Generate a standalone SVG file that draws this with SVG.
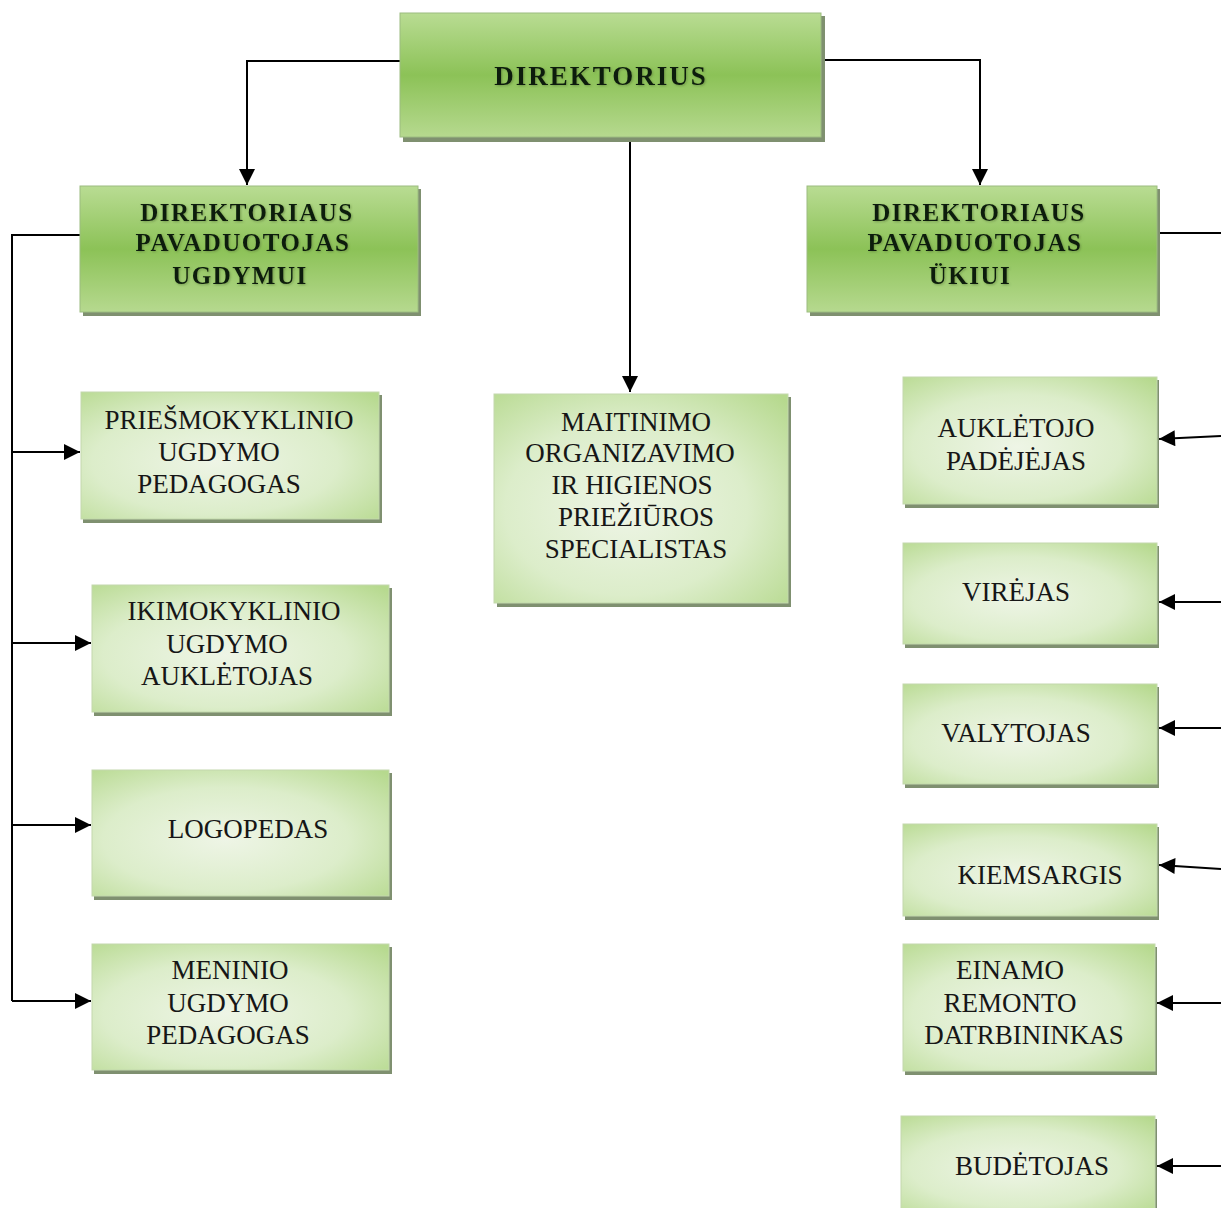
<svg xmlns="http://www.w3.org/2000/svg" width="1221" height="1208" viewBox="0 0 1221 1208">
<defs>
<linearGradient id="gDark" x1="0" y1="0" x2="0" y2="1">
<stop offset="0" stop-color="#b9dc93"/>
<stop offset="0.5" stop-color="#8cc257"/>
<stop offset="1" stop-color="#b6d98f"/>
</linearGradient>
<radialGradient id="gLight" cx="0.45" cy="0.55" r="0.75">
<stop offset="0" stop-color="#eef5e6"/>
<stop offset="0.55" stop-color="#dcedca"/>
<stop offset="1" stop-color="#b6d98e"/>
</radialGradient>
<marker id="arr" viewBox="0 0 10 10" refX="10" refY="5" markerWidth="20" markerHeight="16" markerUnits="userSpaceOnUse" orient="auto">
<path d="M0,0 L10,5 L0,10 z" fill="#000"/>
</marker>
<filter id="ts" x="-10%" y="-20%" width="120%" height="140%">
<feGaussianBlur in="SourceAlpha" stdDeviation="1.2" result="b"/>
<feOffset dx="1" dy="1" result="o"/>
<feFlood flood-color="#5a7a3a" flood-opacity="0.6"/>
<feComposite in2="o" operator="in" result="s"/>
<feMerge><feMergeNode in="s"/><feMergeNode in="SourceGraphic"/></feMerge>
</filter>
</defs>
<style>
.shadow{fill:#7f9070}
.dark{fill:url(#gDark);stroke:#9cbc80;stroke-width:1}
.light{fill:url(#gLight);stroke:#c3d8ad;stroke-width:1}
.hd{font-family:"Liberation Serif",serif;font-weight:bold;font-size:25px;letter-spacing:1.5px;fill:#0a1f0a;text-anchor:middle}
.tx{font-family:"Liberation Serif",serif;font-size:27px;fill:#161616;text-anchor:middle}
.ln{fill:none;stroke:#000;stroke-width:2}
</style>
<rect width="1221" height="1208" fill="#fff"/>

<g id="connectors">
<path class="ln" d="M400,61 H247 V185" marker-end="url(#arr)"/>
<path class="ln" d="M822,60 H980 V185" marker-end="url(#arr)"/>
<path class="ln" d="M630,138 V392" marker-end="url(#arr)"/>
<path class="ln" d="M80,235 H12 V1001"/>
<path class="ln" d="M12,452 H80" marker-end="url(#arr)"/>
<path class="ln" d="M12,643 H91" marker-end="url(#arr)"/>
<path class="ln" d="M12,825 H91" marker-end="url(#arr)"/>
<path class="ln" d="M12,1001 H91" marker-end="url(#arr)"/>
<path class="ln" d="M1157,233 H1221"/>
<path class="ln" d="M1221,436 L1159,439" marker-end="url(#arr)"/>
<path class="ln" d="M1221,602 H1159" marker-end="url(#arr)"/>
<path class="ln" d="M1221,728 H1159" marker-end="url(#arr)"/>
<path class="ln" d="M1221,869 L1159,865" marker-end="url(#arr)"/>
<path class="ln" d="M1221,1003 H1157" marker-end="url(#arr)"/>
<path class="ln" d="M1221,1166 H1157" marker-end="url(#arr)"/>
</g>

<g id="n-direktorius">
<rect class="shadow" x="403" y="16" width="422" height="126"/>
<rect class="dark" x="400" y="13" width="421" height="124"/>
<text class="hd" x="601" y="85" filter="url(#ts)" style="font-size:27px;letter-spacing:2px">DIREKTORIUS</text>
</g>

<g id="n-ugdymui">
<rect class="shadow" x="83" y="189" width="338" height="127"/>
<rect class="dark" x="80" y="186" width="338" height="126"/>
<text class="hd" x="247" y="221" filter="url(#ts)">DIREKTORIAUS</text>
<text class="hd" x="243" y="251" filter="url(#ts)">PAVADUOTOJAS</text>
<text class="hd" x="240" y="284" filter="url(#ts)">UGDYMUI</text>
</g>

<g id="n-ukiui">
<rect class="shadow" x="810" y="189" width="350" height="127"/>
<rect class="dark" x="807" y="186" width="350" height="126"/>
<text class="hd" x="979" y="221" filter="url(#ts)">DIREKTORIAUS</text>
<text class="hd" x="975" y="251" filter="url(#ts)">PAVADUOTOJAS</text>
<text class="hd" x="970" y="284" filter="url(#ts)">ÜKIUI</text>
</g>

<g id="n-priesmokyklinio">
<rect class="shadow" x="83" y="395" width="299" height="128"/>
<rect class="light" x="81" y="392" width="298" height="127"/>
<text class="tx" x="229" y="429">PRIEŠMOKYKLINIO</text>
<text class="tx" x="219" y="461">UGDYMO</text>
<text class="tx" x="219" y="493">PEDAGOGAS</text>
</g>

<g id="n-ikimokyklinio">
<rect class="shadow" x="94" y="588" width="298" height="128"/>
<rect class="light" x="92" y="585" width="297" height="127"/>
<text class="tx" x="234" y="620">IKIMOKYKLINIO</text>
<text class="tx" x="227" y="653">UGDYMO</text>
<text class="tx" x="227" y="685">AUKLĖTOJAS</text>
</g>

<g id="n-logopedas">
<rect class="shadow" x="94" y="773" width="298" height="127"/>
<rect class="light" x="92" y="770" width="297" height="126"/>
<text class="tx" x="248" y="838">LOGOPEDAS</text>
</g>

<g id="n-meninio">
<rect class="shadow" x="94" y="947" width="298" height="127"/>
<rect class="light" x="92" y="944" width="297" height="126"/>
<text class="tx" x="230" y="979">MENINIO</text>
<text class="tx" x="228" y="1012">UGDYMO</text>
<text class="tx" x="228" y="1044">PEDAGOGAS</text>
</g>

<g id="n-maitinimo">
<rect class="shadow" x="497" y="397" width="294" height="210"/>
<rect class="light" x="494" y="394" width="294" height="209"/>
<text class="tx" x="636" y="431">MAITINIMO</text>
<text class="tx" x="630" y="462">ORGANIZAVIMO</text>
<text class="tx" x="632" y="494">IR HIGIENOS</text>
<text class="tx" x="636" y="526">PRIEŽIŪROS</text>
<text class="tx" x="636" y="558">SPECIALISTAS</text>
</g>

<g id="n-aukletojo">
<rect class="shadow" x="905" y="380" width="254" height="128"/>
<rect class="light" x="903" y="377" width="254" height="127"/>
<text class="tx" x="1016" y="437">AUKLĖTOJO</text>
<text class="tx" x="1016" y="470">PADĖJĖJAS</text>
</g>

<g id="n-virejas">
<rect class="shadow" x="905" y="546" width="254" height="102"/>
<rect class="light" x="903" y="543" width="254" height="101"/>
<text class="tx" x="1016" y="601">VIRĖJAS</text>
</g>

<g id="n-valytojas">
<rect class="shadow" x="905" y="687" width="254" height="101"/>
<rect class="light" x="903" y="684" width="254" height="100"/>
<text class="tx" x="1016" y="742">VALYTOJAS</text>
</g>

<g id="n-kiemsargis">
<rect class="shadow" x="905" y="827" width="254" height="93"/>
<rect class="light" x="903" y="824" width="254" height="92"/>
<text class="tx" x="1040" y="884">KIEMSARGIS</text>
</g>

<g id="n-einamo">
<rect class="shadow" x="905" y="947" width="252" height="128"/>
<rect class="light" x="903" y="944" width="252" height="127"/>
<text class="tx" x="1010" y="979">EINAMO</text>
<text class="tx" x="1010" y="1012">REMONTO</text>
<text class="tx" x="1024" y="1044">DATRBININKAS</text>
</g>

<g id="n-budetojas">
<rect class="shadow" x="903" y="1119" width="254" height="95"/>
<rect class="light" x="901" y="1116" width="254" height="94"/>
<text class="tx" x="1032" y="1175">BUDĖTOJAS</text>
</g>
</svg>
